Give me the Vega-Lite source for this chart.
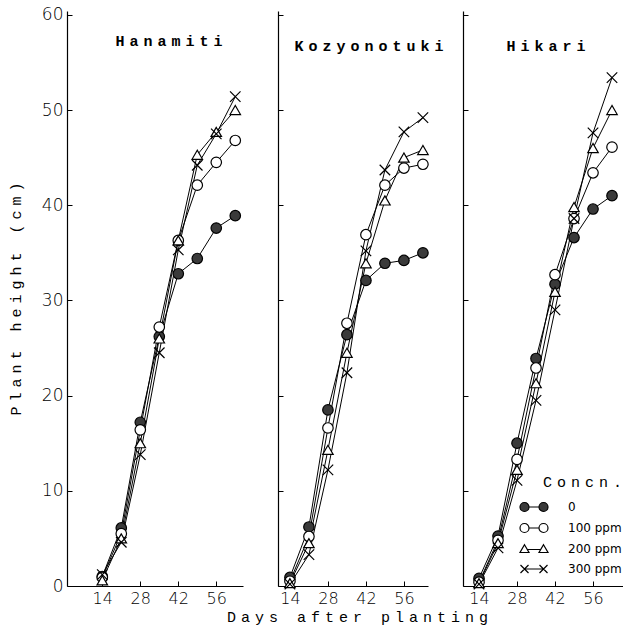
{
  "$schema": "https://vega.github.io/schema/vega-lite/v6.json",
  "padding": {"left": 8, "top": 5, "right": 0, "bottom": 6},
  "bounds": "flush",
  "spacing": 35,
  "background": "white",
  "config": {
    "view": {"stroke": null},
    "axis": {"domainColor": "#000", "tickColor": "#000", "labelColor": "#000", "titleColor": "#000", "grid": false, "labelFont": "DejaVu Sans", "labelFontSize": 16, "labelFontWeight": 200, "titleFont": "Liberation Mono", "titleFontSize": 15, "titleFontWeight": "normal", "tickSize": -5, "domainWidth": 1.2, "tickWidth": 1},
    "title": {"font": "Liberation Mono", "fontSize": 15, "fontWeight": "bold", "color": "#000", "anchor": "middle", "offset": -43, "baseline": "alphabetic"},
    "legend": {"titleFont": "Liberation Mono", "titleFontSize": 15, "titleFontWeight": "normal", "titleColor": "#000", "labelFont": "DejaVu Sans", "labelFontSize": 12, "labelFontWeight": "normal", "labelColor": "#000", "labelOffset": 28, "rowPadding": 7, "symbolSize": 100, "symbolStrokeWidth": 1.2, "symbolStrokeColor": "black", "symbolOpacity": 1, "titlePadding": 11, "titleAnchor": "end"}
  },
  "datasets": {
    "growth": [
      {"variety": "Hanamiti", "concn": "0", "day": 14, "height": 1.0},
      {"variety": "Hanamiti", "concn": "0", "day": 21, "height": 6.1},
      {"variety": "Hanamiti", "concn": "0", "day": 28, "height": 17.2},
      {"variety": "Hanamiti", "concn": "0", "day": 35, "height": 26.2},
      {"variety": "Hanamiti", "concn": "0", "day": 42, "height": 32.8},
      {"variety": "Hanamiti", "concn": "0", "day": 49, "height": 34.4},
      {"variety": "Hanamiti", "concn": "0", "day": 56, "height": 37.6},
      {"variety": "Hanamiti", "concn": "0", "day": 63, "height": 38.9},
      {"variety": "Hanamiti", "concn": "100 ppm", "day": 14, "height": 0.9},
      {"variety": "Hanamiti", "concn": "100 ppm", "day": 21, "height": 5.5},
      {"variety": "Hanamiti", "concn": "100 ppm", "day": 28, "height": 16.4},
      {"variety": "Hanamiti", "concn": "100 ppm", "day": 35, "height": 27.2},
      {"variety": "Hanamiti", "concn": "100 ppm", "day": 42, "height": 36.3},
      {"variety": "Hanamiti", "concn": "100 ppm", "day": 49, "height": 42.1},
      {"variety": "Hanamiti", "concn": "100 ppm", "day": 56, "height": 44.5},
      {"variety": "Hanamiti", "concn": "100 ppm", "day": 63, "height": 46.8},
      {"variety": "Hanamiti", "concn": "200 ppm", "day": 14, "height": 0.6},
      {"variety": "Hanamiti", "concn": "200 ppm", "day": 21, "height": 5.0},
      {"variety": "Hanamiti", "concn": "200 ppm", "day": 28, "height": 15.0},
      {"variety": "Hanamiti", "concn": "200 ppm", "day": 35, "height": 26.0},
      {"variety": "Hanamiti", "concn": "200 ppm", "day": 42, "height": 36.3},
      {"variety": "Hanamiti", "concn": "200 ppm", "day": 49, "height": 45.3},
      {"variety": "Hanamiti", "concn": "200 ppm", "day": 56, "height": 47.7},
      {"variety": "Hanamiti", "concn": "200 ppm", "day": 63, "height": 50.0},
      {"variety": "Hanamiti", "concn": "300 ppm", "day": 14, "height": 1.2},
      {"variety": "Hanamiti", "concn": "300 ppm", "day": 21, "height": 4.6},
      {"variety": "Hanamiti", "concn": "300 ppm", "day": 28, "height": 13.8},
      {"variety": "Hanamiti", "concn": "300 ppm", "day": 35, "height": 24.5},
      {"variety": "Hanamiti", "concn": "300 ppm", "day": 42, "height": 35.3},
      {"variety": "Hanamiti", "concn": "300 ppm", "day": 49, "height": 44.2},
      {"variety": "Hanamiti", "concn": "300 ppm", "day": 56, "height": 47.5},
      {"variety": "Hanamiti", "concn": "300 ppm", "day": 63, "height": 51.4},
      {"variety": "Kozyonotuki", "concn": "0", "day": 14, "height": 0.9},
      {"variety": "Kozyonotuki", "concn": "0", "day": 21, "height": 6.2},
      {"variety": "Kozyonotuki", "concn": "0", "day": 28, "height": 18.5},
      {"variety": "Kozyonotuki", "concn": "0", "day": 35, "height": 26.4},
      {"variety": "Kozyonotuki", "concn": "0", "day": 42, "height": 32.1},
      {"variety": "Kozyonotuki", "concn": "0", "day": 49, "height": 33.9},
      {"variety": "Kozyonotuki", "concn": "0", "day": 56, "height": 34.2},
      {"variety": "Kozyonotuki", "concn": "0", "day": 63, "height": 35.0},
      {"variety": "Kozyonotuki", "concn": "100 ppm", "day": 14, "height": 0.5},
      {"variety": "Kozyonotuki", "concn": "100 ppm", "day": 21, "height": 5.2},
      {"variety": "Kozyonotuki", "concn": "100 ppm", "day": 28, "height": 16.6},
      {"variety": "Kozyonotuki", "concn": "100 ppm", "day": 35, "height": 27.6},
      {"variety": "Kozyonotuki", "concn": "100 ppm", "day": 42, "height": 36.9},
      {"variety": "Kozyonotuki", "concn": "100 ppm", "day": 49, "height": 42.1},
      {"variety": "Kozyonotuki", "concn": "100 ppm", "day": 56, "height": 43.9},
      {"variety": "Kozyonotuki", "concn": "100 ppm", "day": 63, "height": 44.3},
      {"variety": "Kozyonotuki", "concn": "200 ppm", "day": 14, "height": 0.3},
      {"variety": "Kozyonotuki", "concn": "200 ppm", "day": 21, "height": 4.5},
      {"variety": "Kozyonotuki", "concn": "200 ppm", "day": 28, "height": 14.3},
      {"variety": "Kozyonotuki", "concn": "200 ppm", "day": 35, "height": 24.5},
      {"variety": "Kozyonotuki", "concn": "200 ppm", "day": 42, "height": 33.9},
      {"variety": "Kozyonotuki", "concn": "200 ppm", "day": 49, "height": 40.5},
      {"variety": "Kozyonotuki", "concn": "200 ppm", "day": 56, "height": 45.0},
      {"variety": "Kozyonotuki", "concn": "200 ppm", "day": 63, "height": 45.8},
      {"variety": "Kozyonotuki", "concn": "300 ppm", "day": 14, "height": 0.2},
      {"variety": "Kozyonotuki", "concn": "300 ppm", "day": 21, "height": 3.3},
      {"variety": "Kozyonotuki", "concn": "300 ppm", "day": 28, "height": 12.2},
      {"variety": "Kozyonotuki", "concn": "300 ppm", "day": 35, "height": 22.4},
      {"variety": "Kozyonotuki", "concn": "300 ppm", "day": 42, "height": 35.2},
      {"variety": "Kozyonotuki", "concn": "300 ppm", "day": 49, "height": 43.7},
      {"variety": "Kozyonotuki", "concn": "300 ppm", "day": 56, "height": 47.7},
      {"variety": "Kozyonotuki", "concn": "300 ppm", "day": 63, "height": 49.2},
      {"variety": "Hikari", "concn": "0", "day": 14, "height": 0.8},
      {"variety": "Hikari", "concn": "0", "day": 21, "height": 5.25},
      {"variety": "Hikari", "concn": "0", "day": 28, "height": 15.0},
      {"variety": "Hikari", "concn": "0", "day": 35, "height": 23.9},
      {"variety": "Hikari", "concn": "0", "day": 42, "height": 31.7},
      {"variety": "Hikari", "concn": "0", "day": 49, "height": 36.6},
      {"variety": "Hikari", "concn": "0", "day": 56, "height": 39.6},
      {"variety": "Hikari", "concn": "0", "day": 63, "height": 41.0},
      {"variety": "Hikari", "concn": "100 ppm", "day": 14, "height": 0.4},
      {"variety": "Hikari", "concn": "100 ppm", "day": 21, "height": 4.8},
      {"variety": "Hikari", "concn": "100 ppm", "day": 28, "height": 13.3},
      {"variety": "Hikari", "concn": "100 ppm", "day": 35, "height": 22.9},
      {"variety": "Hikari", "concn": "100 ppm", "day": 42, "height": 32.7},
      {"variety": "Hikari", "concn": "100 ppm", "day": 49, "height": 38.6},
      {"variety": "Hikari", "concn": "100 ppm", "day": 56, "height": 43.4},
      {"variety": "Hikari", "concn": "100 ppm", "day": 63, "height": 46.1},
      {"variety": "Hikari", "concn": "200 ppm", "day": 14, "height": 0.3},
      {"variety": "Hikari", "concn": "200 ppm", "day": 21, "height": 4.5},
      {"variety": "Hikari", "concn": "200 ppm", "day": 28, "height": 12.2},
      {"variety": "Hikari", "concn": "200 ppm", "day": 35, "height": 21.3},
      {"variety": "Hikari", "concn": "200 ppm", "day": 42, "height": 30.9},
      {"variety": "Hikari", "concn": "200 ppm", "day": 49, "height": 39.8},
      {"variety": "Hikari", "concn": "200 ppm", "day": 56, "height": 46.0},
      {"variety": "Hikari", "concn": "200 ppm", "day": 63, "height": 50.0},
      {"variety": "Hikari", "concn": "300 ppm", "day": 14, "height": 0.2},
      {"variety": "Hikari", "concn": "300 ppm", "day": 21, "height": 4.0},
      {"variety": "Hikari", "concn": "300 ppm", "day": 28, "height": 11.1},
      {"variety": "Hikari", "concn": "300 ppm", "day": 35, "height": 19.5},
      {"variety": "Hikari", "concn": "300 ppm", "day": 42, "height": 29.0},
      {"variety": "Hikari", "concn": "300 ppm", "day": 49, "height": 38.6},
      {"variety": "Hikari", "concn": "300 ppm", "day": 56, "height": 47.6},
      {"variety": "Hikari", "concn": "300 ppm", "day": 63, "height": 53.4}
    ]
  },
  "data": {"name": "growth"},
  "resolve": {"scale": {"x": "independent", "y": "independent", "shape": "independent", "fill": "independent", "stroke": "independent"}},
  "hconcat": [
    {
      "width": 176, "height": 575,
      "title": {"text": "H\u2004a\u2004n\u2004a\u2004m\u2004i\u2004t\u2004i", "dx": 14},
      "transform": [{"filter": "datum.variety == 'Hanamiti'"}],
      "encoding": {
        "x": {"field": "day", "type": "quantitative", "scale": {"domain": [1, 65.85], "nice": false, "zero": false}, "axis": {"values": [14, 28, 42, 56], "title": null, "labelPadding": 9}},
        "y": {"field": "height", "type": "quantitative", "scale": {"domain": [0, 60.4], "nice": false}, "axis": {"values": [0, 10, 20, 30, 40, 50, 60], "labelPadding": 9, "labelFontSize": 17, "titlePadding": 18, "title": "P\u2004l\u2004a\u2004n\u2004t\u2004 \u2004h\u2004e\u2004i\u2004g\u2004h\u2004t\u2004 \u2004(\u2004c\u2004m\u2004)"}}
      },
      "layer": [
        {"mark": {"type": "line", "color": "black", "strokeWidth": 1}, "encoding": {"detail": {"field": "concn"}}},
        {"mark": {"type": "point", "filled": true, "stroke": "black", "strokeWidth": 1.2, "size": 110, "opacity": 1},
         "encoding": {
           "shape": {"field": "concn", "type": "nominal", "scale": {"domain": ["0", "100 ppm", "200 ppm", "300 ppm"], "range": ["circle", "circle", "triangle-up", "M-1,-1L1,1M-1,1L1,-1"]}, "legend": null},
           "fill": {"field": "concn", "type": "nominal", "scale": {"domain": ["0", "100 ppm", "200 ppm", "300 ppm"], "range": ["#3a3a3a", "white", "white", "white"]}, "legend": null}
         }}
      ]
    },
    {
      "width": 150, "height": 575,
      "title": {"text": "K\u2004o\u2004z\u2004y\u2004o\u2004n\u2004o\u2004t\u2004u\u2004k\u2004i", "dx": 16},
      "transform": [{"filter": "datum.variety == 'Kozyonotuki'"}],
      "encoding": {
        "x": {"field": "day", "type": "quantitative", "scale": {"domain": [9.6, 64.87], "nice": false, "zero": false}, "axis": {"values": [14, 28, 42, 56], "labelPadding": 9, "titlePadding": 3, "titleX": 79, "title": "D\u2004a\u2004y\u2004s\u2004 \u2004a\u2004f\u2004t\u2004e\u2004r\u2004 \u2004p\u2004l\u2004a\u2004n\u2004t\u2004i\u2004n\u2004g"}},
        "y": {"field": "height", "type": "quantitative", "scale": {"domain": [0, 60.4], "nice": false}, "axis": {"values": [0, 10, 20, 30, 40, 50, 60], "labels": false, "title": null}}
      },
      "layer": [
        {"mark": {"type": "line", "color": "black", "strokeWidth": 1}, "encoding": {"detail": {"field": "concn"}}},
        {"mark": {"type": "point", "filled": true, "stroke": "black", "strokeWidth": 1.2, "size": 110, "opacity": 1},
         "encoding": {
           "shape": {"field": "concn", "type": "nominal", "scale": {"domain": ["0", "100 ppm", "200 ppm", "300 ppm"], "range": ["circle", "circle", "triangle-up", "M-1,-1L1,1M-1,1L1,-1"]}, "legend": null},
           "fill": {"field": "concn", "type": "nominal", "scale": {"domain": ["0", "100 ppm", "200 ppm", "300 ppm"], "range": ["#3a3a3a", "white", "white", "white"]}, "legend": null}
         }}
      ]
    },
    {
      "width": 160, "height": 575,
      "title": {"text": "H\u2004i\u2004k\u2004a\u2004r\u2004i", "dx": 3},
      "transform": [{"filter": "datum.variety == 'Hikari'"}],
      "encoding": {
        "x": {"field": "day", "type": "quantitative", "scale": {"domain": [8.1, 67.05], "nice": false, "zero": false}, "axis": {"values": [14, 28, 42, 56], "title": null, "labelPadding": 9}},
        "y": {"field": "height", "type": "quantitative", "scale": {"domain": [0, 60.4], "nice": false}, "axis": {"values": [0, 10, 20, 30, 40, 50, 60], "labels": false, "title": null}}
      },
      "resolve": {"scale": {"shape": "independent", "fill": "independent", "stroke": "independent"}},
      "layer": [
        {"mark": {"type": "line", "color": "black", "strokeWidth": 1}, "encoding": {"detail": {"field": "concn"}}},
        {"mark": {"type": "point", "filled": true, "stroke": "black", "strokeWidth": 1.2, "size": 110, "opacity": 1},
         "encoding": {
           "shape": {"field": "concn", "type": "nominal", "scale": {"domain": ["0", "100 ppm", "200 ppm", "300 ppm"], "range": ["circle", "circle", "triangle-up", "M-1,-1L1,1M-1,1L1,-1"]}, "legend": null},
           "fill": {"field": "concn", "type": "nominal", "scale": {"domain": ["0", "100 ppm", "200 ppm", "300 ppm"], "range": ["#3a3a3a", "white", "white", "white"]}, "legend": null}
         }},
        {"transform": [{"filter": "datum.day < 0"}],
         "mark": {"type": "point", "filled": true, "strokeWidth": 1.2, "size": 100, "opacity": 1},
         "encoding": {
           "shape": {"field": "concn", "type": "nominal", "scale": {"domain": ["0", "100 ppm", "200 ppm", "300 ppm"], "range": [
             "M-2.8,0A0.9,0.9,0,1,1,-1,0A0.9,0.9,0,1,1,-2.8,0ZM1,0A0.9,0.9,0,1,1,2.8,0A0.9,0.9,0,1,1,1,0ZM-1,0L1,0",
             "M-2.8,0A0.9,0.9,0,1,1,-1,0A0.9,0.9,0,1,1,-2.8,0ZM1,0A0.9,0.9,0,1,1,2.8,0A0.9,0.9,0,1,1,1,0ZM-1,0L1,0",
             "M-1.9,-0.85L-1,0.7L-2.8,0.7ZM1.9,-0.85L2.8,0.7L1,0.7ZM-1.35,0.1L1.35,0.1",
             "M-2.7,-0.8L-1.1,0.8M-2.7,0.8L-1.1,-0.8M1.1,-0.8L2.7,0.8M1.1,0.8L2.7,-0.8M-1.9,0L1.9,0"]},
             "legend": {"title": "C\u2004o\u2004n\u2004c\u2004n\u2004.", "orient": "none", "legendX": 65, "legendY": 464, "labelExpr": "datum.label == '0' ? '\u20070' : datum.label"}},
           "fill": {"field": "concn", "type": "nominal", "scale": {"domain": ["0", "100 ppm", "200 ppm", "300 ppm"], "range": ["#3a3a3a", "white", "white", "white"]},
             "legend": {"title": "C\u2004o\u2004n\u2004c\u2004n\u2004.", "orient": "none", "legendX": 65, "legendY": 464, "labelExpr": "datum.label == '0' ? '\u20070' : datum.label"}},
           "stroke": {"field": "concn", "type": "nominal", "scale": {"domain": ["0", "100 ppm", "200 ppm", "300 ppm"], "range": ["black", "black", "black", "black"]},
             "legend": {"title": "C\u2004o\u2004n\u2004c\u2004n\u2004.", "orient": "none", "legendX": 65, "legendY": 464, "labelExpr": "datum.label == '0' ? '\u20070' : datum.label"}}
         }}
      ]
    }
  ]
}
